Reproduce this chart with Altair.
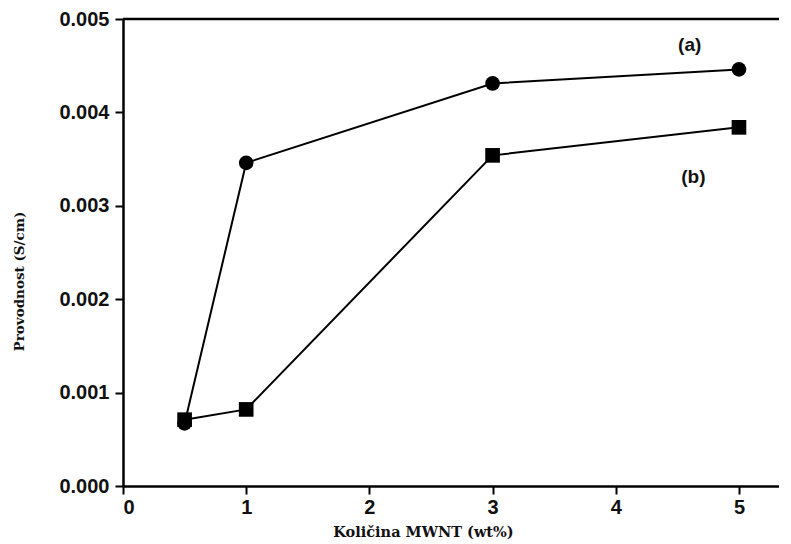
import altair as alt
import pandas as pd

x_vals = [0.5, 1, 3, 5]
series_a = [0.00067, 0.00346, 0.00431, 0.00446]
series_b = [0.00071, 0.00082, 0.00354, 0.00384]
label_text = ["(a)", "(b)"]
label_x = [4.60, 4.63]
label_y = [0.00472, 0.00331]
x_max = 5.325

rows = []
for xv, a in zip(x_vals, series_a):
    rows.append({"x": xv, "y": a, "s": "a"})
for xv, b in zip(x_vals, series_b):
    rows.append({"x": xv, "y": b, "s": "b"})
df = pd.DataFrame(rows)
lab = pd.DataFrame({"x": label_x, "y": label_y, "t": label_text})
top = pd.DataFrame({"x": [0], "x2": [x_max], "y": [0.005]})

xs = alt.Scale(domain=[0, x_max], nice=False, zero=False)
ys = alt.Scale(domain=[0, 0.005], nice=False)

xenc = alt.X("x:Q", scale=xs, title="Količina MWNT (wt%)",
             axis=alt.Axis(values=[0, 1, 2, 3, 4, 5], format="d", titleX=300, titleY=39,
                           labelPadding=3, titleFont="DejaVu Serif", titleFontSize=14.5))
yenc = alt.Y("y:Q", scale=ys, title="Provodnost (S/cm)",
             axis=alt.Axis(values=[0, 0.001, 0.002, 0.003, 0.004, 0.005], format=".3f",
                           titleX=-97, titleY=262, titleFont="DejaVu Serif",
                           titleFontSize=13.5))

topline = alt.Chart(top).mark_rule(color="black", strokeWidth=2.5).encode(
    x=xenc, x2="x2:Q", y=yenc)
lines = alt.Chart(df).mark_line(color="black", strokeWidth=2).encode(
    x="x:Q", y="y:Q", detail="s:N")
pts_a = alt.Chart(df[df.s == "a"]).mark_point(shape="circle", filled=True, color="black",
                                              size=215, opacity=1).encode(x="x:Q", y="y:Q")
pts_b = alt.Chart(df[df.s == "b"]).mark_point(shape="square", filled=True, color="black",
                                              size=215, opacity=1).encode(x="x:Q", y="y:Q")
texts = alt.Chart(lab).mark_text(font="Liberation Sans", fontWeight="bold", fontSize=19,
                                 color="#111").encode(x="x:Q", y="y:Q", text="t:N")

chart = alt.layer(topline, lines, pts_a, pts_b, texts).properties(
    width=656, height=467, background="white",
    autosize=alt.AutoSizeParams(type="none"),
    padding={"left": 115, "top": 11, "right": 0, "bottom": 54},
).configure_view(stroke=None).configure_axis(
    grid=False, domainColor="black", domainWidth=2.5, tickColor="black", tickWidth=2,
    tickSize=8, labelFont="Liberation Sans", labelFontWeight="bold", labelFontSize=20,
    labelColor="#111", labelPadding=6,
    titleFontWeight="bold", titleColor="#111",
)

chart.save("out.html", embed_options={"renderer": "svg", "actions": False})
